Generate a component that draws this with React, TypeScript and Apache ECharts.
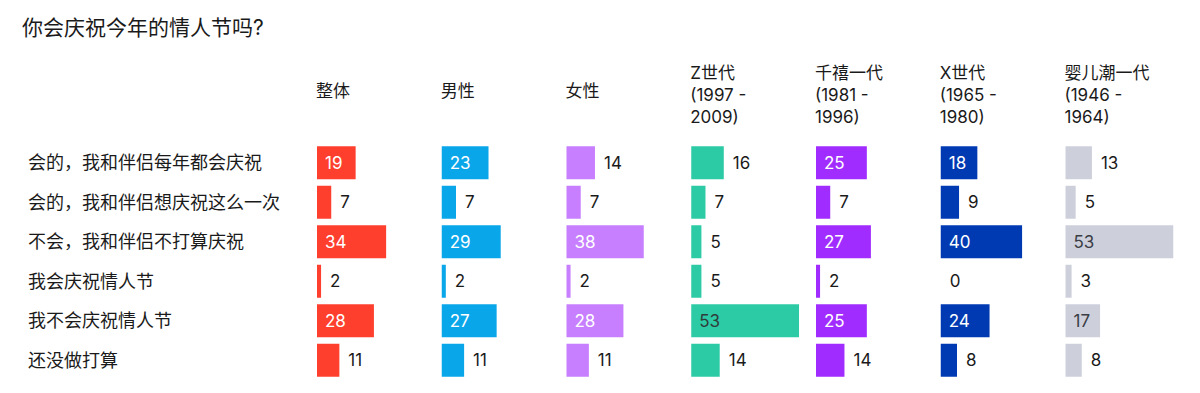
import React, { useEffect, useRef } from "react";
import * as echarts from "echarts";

const title = "你会庆祝今年的情人节吗?";
const categories = [
  "会的，我和伴侣每年都会庆祝",
  "会的，我和伴侣想庆祝这么一次",
  "不会，我和伴侣不打算庆祝",
  "我会庆祝情人节",
  "我不会庆祝情人节",
  "还没做打算",
];
const groupNames = [
  "整体",
  "男性",
  "女性",
  "Z世代\n(1997 -\n2009)",
  "千禧一代\n(1981 -\n1996)",
  "X世代\n(1965 -\n1980)",
  "婴儿潮一代\n(1946 -\n1964)",
];
const overall = [19, 7, 34, 2, 28, 11];
const male = [23, 7, 29, 2, 27, 11];
const female = [14, 7, 38, 2, 28, 11];
const genZ = [16, 7, 5, 5, 53, 14];
const millennials = [25, 7, 27, 2, 25, 14];
const genX = [18, 9, 40, 0, 24, 8];
const boomers = [13, 5, 53, 3, 17, 8];
const seriesValues = [overall, male, female, genZ, millennials, genX, boomers];
const colors = ["#FF3F2E", "#0AA6EA", "#C77FFF", "#2DCAA6", "#A12CFF", "#003AB3", "#CDD0DB"];
const insideLabelColors = ["#ffffff", "#ffffff", "#ffffff", "#2f3d3a", "#ffffff", "#ffffff", "#3a3d45"];

const FONT = "Inter, 'Noto Sans CJK SC', sans-serif";

export default function App() {
  const ref = useRef<HTMLDivElement>(null);
  useEffect(() => {
    document.body.style.margin = "0";
    const chart = echarts.init(ref.current!, null, { renderer: "svg" });
    const n = seriesValues.length;
    const left0 = 317;
    const step = 124.75;
    const gridTop = 143;
    const gridH = 237;
    const grids: any[] = [];
    const xAxes: any[] = [];
    const yAxes: any[] = [];
    const series: any[] = [];
    const graphics: any[] = [
      {
        type: "text",
        x: 22,
        y: 27,
        style: { text: title, font: `21px ${FONT}`, fill: "#1a1a1a", textVerticalAlign: "middle" },
      },
    ];
    for (let i = 0; i < n; i++) {
      const left = left0 + i * step;
      grids.push({ left, top: gridTop, width: 122, height: gridH });
      xAxes.push({ type: "value", gridIndex: i, min: 0, max: 60, show: false });
      yAxes.push({
        type: "category",
        gridIndex: i,
        data: categories,
        inverse: true,
        axisLine: { show: false },
        axisTick: { show: false },
        splitLine: { show: false },
        axisLabel:
          i === 0
            ? { show: true, align: "left", margin: left - 28, fontSize: 18, color: "#1a1a1a", fontFamily: FONT }
            : { show: false },
      });
      series.push({
        type: "bar",
        xAxisIndex: i,
        yAxisIndex: i,
        barWidth: 33,
        itemStyle: { color: colors[i] },
        data: seriesValues[i].map((v) => {
          const inside = v >= 17;
          return {
            value: v,
            label: {
              show: true,
              position: inside ? "insideLeft" : "right",
              distance: inside ? 8 : 9,
              color: inside ? insideLabelColors[i] : "#1a1a1a",
              fontSize: 17,
              fontFamily: FONT,
            },
          };
        }),
      });
      const name = groupNames[i];
      const multi = name.includes("\n");
      graphics.push({
        type: "text",
        x: left - 1,
        y: multi ? 62 : 91,
        style: {
          text: name,
          font: `17px ${FONT}`,
          fill: "#1a1a1a",
          lineHeight: 22,
          textVerticalAlign: multi ? "top" : "middle",
        },
      });
    }
    chart.setOption({
      animation: false,
      backgroundColor: "#ffffff",
      grid: grids,
      xAxis: xAxes,
      yAxis: yAxes,
      series,
      graphic: graphics,
    });
    return () => chart.dispose();
  }, []);
  return <div ref={ref} style={{ width: 1200, height: 393 }} />;
}
